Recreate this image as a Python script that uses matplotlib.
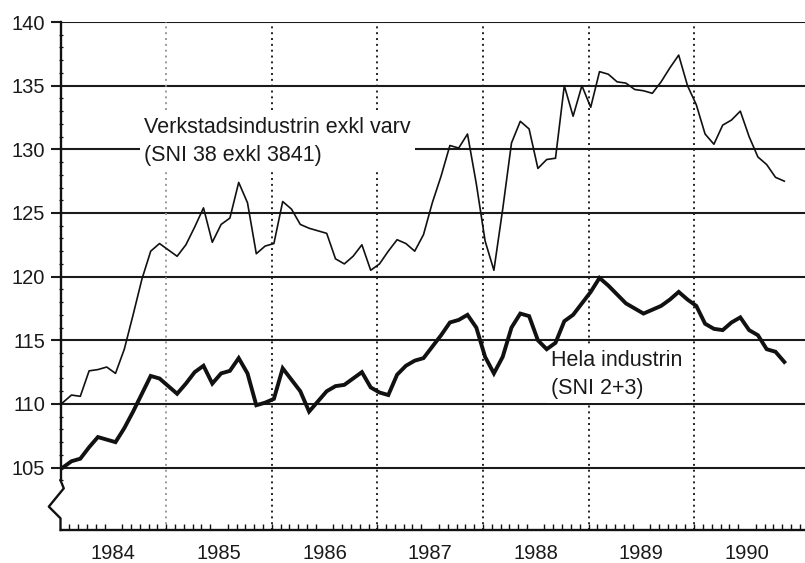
import matplotlib.pyplot as plt
import numpy as np
from matplotlib.ticker import FixedLocator, NullFormatter

plt.rcParams['font.family'] = ['Liberation Sans', 'DejaVu Sans']

# Monthly index values, Jan 1984 - Nov 1990
verkstad = [110.1, 110.7, 110.6, 112.6, 112.7, 112.9, 112.4, 114.3, 117.0, 119.8, 122.0, 122.6,
            122.1, 121.6, 122.5, 123.9, 125.4, 122.7, 124.1, 124.6, 127.4, 125.8, 121.8, 122.4,
            122.6, 125.9, 125.3, 124.1, 123.8, 123.6, 123.4, 121.4, 121.0, 121.6, 122.5, 120.5,
            121.0, 122.0, 122.9, 122.6, 122.0, 123.3, 125.8, 127.9, 130.3, 130.1, 131.2, 127.3,
            122.8, 120.5, 125.3, 130.5, 132.2, 131.6, 128.5, 129.2, 129.3, 135.0, 132.6, 135.0,
            133.3, 136.1, 135.9, 135.3, 135.2, 134.7, 134.6, 134.4, 135.3, 136.4, 137.4, 135.0,
            133.5, 131.2, 130.4, 131.9, 132.3, 133.0, 131.0, 129.4, 128.8, 127.8, 127.5]

hela = [105.0, 105.5, 105.7, 106.6, 107.4, 107.2, 107.0, 108.1, 109.4, 110.8, 112.2, 112.0,
        111.4, 110.8, 111.6, 112.5, 113.0, 111.6, 112.4, 112.6, 113.6, 112.4, 109.9, 110.1,
        110.4, 112.8, 111.9, 111.0, 109.4, 110.2, 111.0, 111.4, 111.5, 112.0, 112.5, 111.3,
        110.9, 110.7, 112.3, 113.0, 113.4, 113.6, 114.5, 115.4, 116.4, 116.6, 117.0, 116.0,
        113.7, 112.4, 113.7, 116.0, 117.1, 116.9, 115.0, 114.3, 114.8, 116.5, 117.0, 117.9,
        118.8, 119.9, 119.3, 118.6, 117.9, 117.5, 117.1, 117.4, 117.7, 118.2, 118.8, 118.2,
        117.7, 116.3, 115.9, 115.8, 116.4, 116.8, 115.8, 115.4, 114.3, 114.1, 113.3]

years = [1984, 1985, 1986, 1987, 1988, 1989, 1990]
y_ticks = [105, 110, 115, 120, 125, 130, 135, 140]

label_verkstad = 'Verkstadsindustrin exkl varv\n(SNI 38 exkl 3841)'
label_hela = 'Hela industrin\n(SNI 2+3)'


def draw_axis_break(ax):
    """Left spine with the zigzag break near the bottom"""
    kw = dict(transform=ax.transAxes, color='#111111', lw=1.7, clip_on=False, zorder=5)
    ax.plot([0, 0], [1, 0.098], **kw)
    ax.plot([0, 0.0044, -0.0157, 0, 0], [0.098, 0.082, 0.046, 0.023, 0], **kw)


def main():
    x = 1984 + (np.arange(len(verkstad)) + 0.25) / 12

    fig = plt.figure(figsize=(8.05, 5.63), dpi=100)
    ax = fig.add_axes([60.5 / 805, 33 / 563, 744.5 / 805, 508 / 563])

    ax.set_xlim(1984, 1984 + 744.5 / 105.6)
    ax.set_ylim(100.1, 140)

    # horizontal grid lines
    for v in y_ticks:
        ax.axhline(v, color='#1a1a1a', lw=1.5, zorder=1)

    # dotted year separators
    for yr in years[1:]:
        col = '#9a9a9a' if yr == 1985 else '#222222'
        ax.axvline(yr, color=col, lw=1.4, ls=(0, (1, 2)), zorder=1)

    ax.plot(x, verkstad, color='#111111', lw=1.2, zorder=3)
    ax.plot(x, hela, color='#111111', lw=2.8, zorder=3, solid_joinstyle='miter')

    # texts with white background hiding the grid
    box = dict(facecolor='white', edgecolor='none', pad=3)
    ax.text(1984.79, 130.6, label_verkstad, fontsize=15.5, va='center', ha='left',
            linespacing=1.45, color='#1a1a1a', bbox=box, zorder=2)
    ax.text(1988.645, 112.3, label_hela, fontsize=15.5, va='center', ha='left',
            linespacing=1.45, color='#1a1a1a', bbox=box, zorder=2)

    # spines
    for s in ['top', 'right', 'left']:
        ax.spines[s].set_visible(False)
    ax.spines['bottom'].set_linewidth(1.7)
    ax.spines['bottom'].set_color('#111111')
    draw_axis_break(ax)

    # ticks
    ax.set_xticks([yr + 0.5 for yr in years])
    ax.set_xticklabels([str(yr) for yr in years])
    ax.xaxis.set_minor_locator(FixedLocator(1984 + np.arange(1, 85) / 12))
    ax.xaxis.set_minor_formatter(NullFormatter())
    ax.tick_params(axis='x', which='major', length=0, pad=10, labelsize=14.5, labelcolor='#1a1a1a')
    ax.tick_params(axis='x', which='minor', direction='in', length=4, width=1.0, color='#111111')

    ax.set_yticks(y_ticks)
    ax.set_yticklabels([str(v) for v in y_ticks])
    ax.yaxis.set_minor_locator(FixedLocator(np.arange(104, 140)))
    ax.tick_params(axis='y', which='major', direction='out', length=7, width=1.5, pad=4,
                   labelsize=14.5, labelcolor='#1a1a1a', color='#1a1a1a')
    ax.tick_params(axis='y', which='minor', direction='inout', length=3, width=0.9, color='#111111')

    fig.savefig('out.png', dpi=100)


if __name__ == "__main__":
    main()
